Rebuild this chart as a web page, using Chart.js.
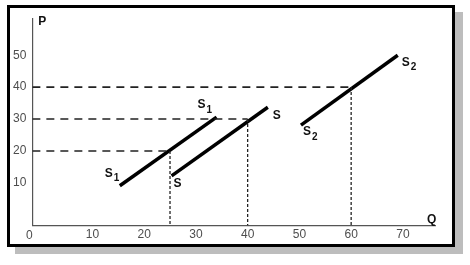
<!DOCTYPE html>
<html>
<head>
<meta charset="utf-8">
<script src="https://cdn.jsdelivr.net/npm/chart.js@4"></script>
<style>
  body { margin: 0; background: #fff; }
  .frame {
    position: absolute; left: 7px; top: 5px; width: 448px; height: 242px;
    box-sizing: border-box; border: 3px solid #000; background: #fff;
    box-shadow: 8px 7px 0 #bdbdbd;
  }
  canvas { display: block; }
</style>
</head>
<body>
<div class="frame"><canvas id="supply" width="442" height="236"></canvas></div>
<script>
// tick labels
const qTicks = [10, 20, 30, 40, 50, 60, 70];
const pTicks = [10, 20, 30, 40, 50];

// supply curves, end points (Q, P)
const s1Q = [15.3, 34.0];
const s1P = [9.1, 30.6];
const sQ = [25.3, 43.9];
const sP = [12.2, 33.7];
const s2Q = [50.3, 69.0];
const s2P = [28.1, 50.0];

// points marked by the dashed guides
const eqQ = [25, 40, 60];
const eqP = [20, 30, 40];

const qMin = -1.6, qMax = 76.2;
const pMin = -3.4, pMax = 61.6;

const FONT = '"Liberation Sans", Arial, Helvetica, sans-serif';
const TICK_COLOR = '#4d4d4d';

const toPoints = (qs, ps) => qs.map((q, i) => ({ x: q, y: ps[i] }));

const curve = (label, qs, ps, tags) => ({
  label: label,
  data: toPoints(qs, ps),
  borderColor: '#000',
  borderWidth: 3.5,
  borderCapStyle: 'butt',
  pointRadius: 0,
  showLine: true,
  tags: tags
});

const guides = [];
eqQ.forEach((q, i) => {
  guides.push({
    data: [{ x: qMin, y: eqP[i] }, { x: q, y: eqP[i] }],
    borderColor: '#222', borderWidth: 1.6, borderDash: [8, 6],
    pointRadius: 0, showLine: true
  });
  guides.push({
    data: [{ x: q, y: eqP[i] }, { x: q, y: pMin }],
    borderColor: '#222', borderWidth: 1.3, borderDash: [3, 2],
    pointRadius: 0, showLine: true
  });
});

// text next to curve ends, the P / Q axis names and the origin 0
const curveText = {
  id: 'curveText',
  afterDatasetsDraw(chart) {
    const ctx = chart.ctx;
    const { left, right, top, bottom } = chart.chartArea;
    ctx.save();
    ctx.textBaseline = 'middle';
    ctx.textAlign = 'left';
    ctx.fillStyle = '#111';
    ctx.font = 'bold 12px ' + FONT;
    ctx.fillText('P', left + 6, top + 3);
    ctx.fillText('Q', right - 8, bottom - 6);

    chart.data.datasets.forEach((ds, i) => {
      if (!ds.tags) return;
      const pts = chart.getDatasetMeta(i).data;
      const name = ds.label.charAt(0);
      const sub = ds.label.slice(1);
      ds.tags.forEach(t => {
        const p = t.at === 'start' ? pts[0] : pts[pts.length - 1];
        const x = p.x + t.dx, y = p.y + t.dy;
        ctx.font = 'bold 12px ' + FONT;
        ctx.fillText(name, x, y);
        if (sub) {
          const w = ctx.measureText(name).width;
          ctx.font = 'bold 10px ' + FONT;
          ctx.fillText(sub, x + w + 1, y + 5);
        }
      });
    });

    ctx.font = '12px ' + FONT;
    ctx.fillStyle = TICK_COLOR;
    ctx.textAlign = 'center';
    ctx.fillText('0', left - 3, bottom + 10);
    ctx.restore();
  }
};

new Chart(document.getElementById('supply'), {
  type: 'scatter',
  data: {
    datasets: [
      ...guides,
      curve('S1', s1Q, s1P, [{ at: 'start', dx: -15, dy: -12 }, { at: 'end', dx: -19, dy: -12 }]),
      curve('S', sQ, sP, [{ at: 'start', dx: 2, dy: 8 }, { at: 'end', dx: 5, dy: 8 }]),
      curve('S2', s2Q, s2P, [{ at: 'start', dx: 2, dy: 7 }, { at: 'end', dx: 4, dy: 7 }])
    ]
  },
  options: {
    responsive: false,
    animation: false,
    devicePixelRatio: 1,
    layout: { padding: { left: 3, right: 17, top: 9, bottom: 0 } },
    plugins: { legend: { display: false }, tooltip: { enabled: false } },
    scales: {
      x: {
        type: 'linear', min: qMin, max: qMax,
        afterBuildTicks: s => { s.ticks = qTicks.map(v => ({ value: v })); },
        grid: { display: false, drawTicks: false },
        border: { display: true, color: '#555', width: 1.2 },
        ticks: { padding: 2, color: TICK_COLOR, font: { size: 12, family: FONT } }
      },
      y: {
        type: 'linear', min: pMin, max: pMax,
        afterBuildTicks: s => { s.ticks = pTicks.map(v => ({ value: v })); },
        grid: { display: false, drawTicks: false },
        border: { display: true, color: '#555', width: 1.2 },
        ticks: { padding: 3, crossAlign: 'far', color: TICK_COLOR, font: { size: 12, family: FONT } }
      }
    }
  },
  plugins: [curveText]
});
</script>
</body>
</html>
